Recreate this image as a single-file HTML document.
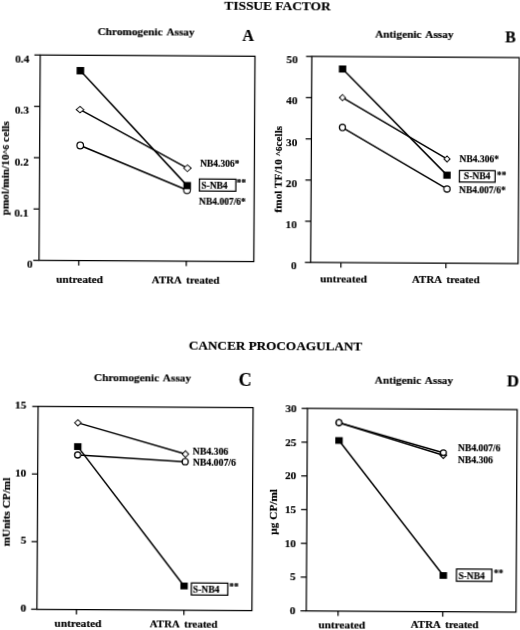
<!DOCTYPE html>
<html lang="en">
<head>
<meta charset="utf-8">
<title>Tissue Factor and Cancer Procoagulant</title>
<style>
html,body{margin:0;padding:0;background:#fff;}
body{width:520px;height:630px;overflow:hidden;}
svg{display:block;}
svg text{font-family:'Liberation Serif', 'DejaVu Serif', serif;font-weight:bold;fill:#000;stroke:#000;stroke-width:0.18px;}
</style>
</head>
<body>
<svg width="520" height="630" viewBox="0 0 520 630">
<rect x="0" y="0" width="520" height="630" fill="#fff"/>
<defs><filter id="soft" filterUnits="userSpaceOnUse" x="-10" y="-10" width="540" height="650"><feGaussianBlur stdDeviation="0.32"/></filter></defs>
<g filter="url(#soft)" transform="rotate(0.33 260 315)">
<text x="275.74" y="10.20" font-size="13.4" text-anchor="middle" >TISSUE FACTOR</text>
<text x="275.70" y="350.01" font-size="13.2" text-anchor="middle" >CANCER PROCOAGULANT</text>
<rect x="38.7" y="56.3" width="214.80" height="205.30" fill="none" stroke="#000" stroke-width="1.25"/>
<line x1="32.90" y1="261.60" x2="38.70" y2="261.60" stroke="#000" stroke-width="1.25"/>
<text x="32.40" y="269.20" font-size="11.3" text-anchor="end" >0</text>
<line x1="32.90" y1="210.28" x2="38.70" y2="210.28" stroke="#000" stroke-width="1.25"/>
<text x="27.80" y="217.88" font-size="11.3" text-anchor="end" >0.1</text>
<line x1="32.90" y1="158.95" x2="38.70" y2="158.95" stroke="#000" stroke-width="1.25"/>
<text x="27.80" y="166.55" font-size="11.3" text-anchor="end" >0.2</text>
<line x1="32.90" y1="107.62" x2="38.70" y2="107.62" stroke="#000" stroke-width="1.25"/>
<text x="27.80" y="115.22" font-size="11.3" text-anchor="end" >0.3</text>
<line x1="32.90" y1="56.30" x2="38.70" y2="56.30" stroke="#000" stroke-width="1.25"/>
<text x="27.80" y="63.90" font-size="11.3" text-anchor="end" >0.4</text>
<line x1="78.50" y1="261.60" x2="78.50" y2="266.60" stroke="#000" stroke-width="1.25"/>
<line x1="186.00" y1="261.60" x2="186.00" y2="266.60" stroke="#000" stroke-width="1.25"/>
<text x="79.42" y="284.04" font-size="11.3" text-anchor="middle" >untreated</text>
<text x="185.42" y="283.83" font-size="10.95" text-anchor="middle" word-spacing="2.2">ATRA treated</text>
<text transform="translate(8.16,169.75) rotate(-90)" font-size="11.3" text-anchor="middle">pmol/min/10<tspan font-size="9">^6</tspan> cells</text>
<text x="144.39" y="35.86" font-size="11.3" text-anchor="middle" word-spacing="1.5">Chromogenic Assay</text>
<text x="246.42" y="40.57" font-size="16" text-anchor="middle" >A</text>
<line x1="79.00" y1="71.74" x2="186.46" y2="186.12" stroke="#000" stroke-width="1.5"/>
<line x1="78.92" y1="110.64" x2="186.56" y2="168.62" stroke="#000" stroke-width="1.5"/>
<line x1="79.23" y1="146.54" x2="186.28" y2="190.52" stroke="#000" stroke-width="1.5"/>
<circle cx="79.23" cy="146.54" r="3.3" fill="#fff" stroke="#000" stroke-width="1.25"/>
<circle cx="186.28" cy="190.52" r="3.3" fill="#fff" stroke="#000" stroke-width="1.25"/>
<polygon points="75.22,110.64 78.92,107.44 82.62,110.64 78.92,113.84" fill="#fff" stroke="#000" stroke-width="1.1"/>
<polygon points="182.86,168.62 186.56,165.42 190.26,168.62 186.56,171.82" fill="#fff" stroke="#000" stroke-width="1.1"/>
<rect x="75.20" y="68.04" width="7.6" height="7.4" fill="#000"/>
<rect x="182.66" y="182.42" width="7.6" height="7.4" fill="#000"/>
<text x="199.15" y="167.35" font-size="9.5" text-anchor="start" >NB4.306*</text>
<text x="198.36" y="204.85" font-size="9.5" text-anchor="start" >NB4.007/6*</text>
<rect x="198.62" y="179.35" width="36.47" height="12.09" fill="none" stroke="#000" stroke-width="1.25"/>
<text x="200.47" y="189.14" font-size="9.5" text-anchor="start" >S-NB4</text>
<text x="235.86" y="185.94" font-size="9.5" text-anchor="start" >**</text>
<rect x="310.4" y="56.2" width="207.40" height="206.00" fill="none" stroke="#000" stroke-width="1.25"/>
<line x1="304.60" y1="262.20" x2="310.40" y2="262.20" stroke="#000" stroke-width="1.25"/>
<text x="296.40" y="269.20" font-size="11.3" text-anchor="end" >0</text>
<line x1="304.60" y1="221.00" x2="310.40" y2="221.00" stroke="#000" stroke-width="1.25"/>
<text x="296.40" y="228.00" font-size="11.3" text-anchor="end" >10</text>
<line x1="304.60" y1="179.80" x2="310.40" y2="179.80" stroke="#000" stroke-width="1.25"/>
<text x="296.40" y="186.80" font-size="11.3" text-anchor="end" >20</text>
<line x1="304.60" y1="138.60" x2="310.40" y2="138.60" stroke="#000" stroke-width="1.25"/>
<text x="296.40" y="145.60" font-size="11.3" text-anchor="end" >30</text>
<line x1="304.60" y1="97.40" x2="310.40" y2="97.40" stroke="#000" stroke-width="1.25"/>
<text x="296.40" y="104.40" font-size="11.3" text-anchor="end" >40</text>
<line x1="304.60" y1="56.20" x2="310.40" y2="56.20" stroke="#000" stroke-width="1.25"/>
<text x="296.40" y="63.20" font-size="11.3" text-anchor="end" >50</text>
<line x1="340.60" y1="262.20" x2="340.60" y2="267.20" stroke="#000" stroke-width="1.25"/>
<line x1="445.60" y1="262.20" x2="445.60" y2="267.20" stroke="#000" stroke-width="1.25"/>
<text x="343.31" y="281.72" font-size="11.3" text-anchor="middle" >untreated</text>
<text x="445.61" y="281.53" font-size="10.95" text-anchor="middle" word-spacing="2.2">ATRA treated</text>
<text transform="translate(281.16,169.18) rotate(-90)" font-size="11.3" text-anchor="middle">fmol TF/10 <tspan font-size="9">^6</tspan>cells</text>
<text x="412.60" y="36.62" font-size="11.3" text-anchor="middle" word-spacing="1.5">Antigenic Assay</text>
<text x="508.92" y="40.56" font-size="16" text-anchor="middle" >B</text>
<line x1="341.18" y1="68.53" x2="446.19" y2="174.13" stroke="#000" stroke-width="1.5"/>
<line x1="341.25" y1="97.13" x2="446.10" y2="157.93" stroke="#000" stroke-width="1.5"/>
<line x1="341.42" y1="127.03" x2="446.27" y2="187.93" stroke="#000" stroke-width="1.5"/>
<circle cx="341.42" cy="127.03" r="3.05" fill="#fff" stroke="#000" stroke-width="1.3"/>
<circle cx="446.27" cy="187.93" r="3.05" fill="#fff" stroke="#000" stroke-width="1.3"/>
<polygon points="338.30,97.13 341.25,94.18 344.20,97.13 341.25,100.08" fill="#fff" stroke="#000" stroke-width="1.1"/>
<polygon points="443.15,157.93 446.10,154.98 449.05,157.93 446.10,160.88" fill="#fff" stroke="#000" stroke-width="1.1"/>
<rect x="337.48" y="64.98" width="7.4" height="7.1" fill="#000"/>
<rect x="442.49" y="170.58" width="7.4" height="7.1" fill="#000"/>
<text x="458.62" y="161.05" font-size="9.5" text-anchor="start" >NB4.306*</text>
<text x="458.30" y="192.26" font-size="9.5" text-anchor="start" >NB4.007/6*</text>
<rect x="458.56" y="169.25" width="35.77" height="11.50" fill="none" stroke="#000" stroke-width="1.25"/>
<text x="463.12" y="178.23" font-size="9.5" text-anchor="start" >S-NB4</text>
<text x="495.91" y="176.54" font-size="9.5" text-anchor="start" >**</text>
<rect x="38.6" y="407.7" width="215.00" height="202.80" fill="none" stroke="#000" stroke-width="1.25"/>
<line x1="32.80" y1="610.50" x2="38.60" y2="610.50" stroke="#000" stroke-width="1.25"/>
<text x="28.00" y="612.80" font-size="11.3" text-anchor="end" >0</text>
<line x1="32.80" y1="542.90" x2="38.60" y2="542.90" stroke="#000" stroke-width="1.25"/>
<text x="27.61" y="545.20" font-size="11.3" text-anchor="end" >5</text>
<line x1="32.80" y1="475.30" x2="38.60" y2="475.30" stroke="#000" stroke-width="1.25"/>
<text x="27.22" y="477.60" font-size="11.3" text-anchor="end" >10</text>
<line x1="32.80" y1="407.70" x2="38.60" y2="407.70" stroke="#000" stroke-width="1.25"/>
<text x="26.83" y="410.00" font-size="11.3" text-anchor="end" >15</text>
<line x1="78.20" y1="610.50" x2="78.20" y2="615.50" stroke="#000" stroke-width="1.25"/>
<line x1="185.60" y1="610.50" x2="185.60" y2="615.50" stroke="#000" stroke-width="1.25"/>
<text x="79.80" y="628.34" font-size="11.3" text-anchor="middle" >untreated</text>
<text x="185.40" y="628.43" font-size="10.95" text-anchor="middle" word-spacing="2.2">ATRA treated</text>
<text transform="translate(11.14,513.44) rotate(-90)" font-size="11.3" text-anchor="middle">mUnits CP/ml</text>
<text x="142.88" y="381.88" font-size="11.3" text-anchor="middle" word-spacing="1.5">Chromogenic Assay</text>
<text x="245.41" y="386.49" font-size="18" text-anchor="middle" >C</text>
<line x1="78.52" y1="423.85" x2="186.30" y2="454.53" stroke="#000" stroke-width="1.5"/>
<line x1="78.51" y1="456.05" x2="186.05" y2="462.13" stroke="#000" stroke-width="1.5"/>
<line x1="78.56" y1="447.65" x2="185.66" y2="586.43" stroke="#000" stroke-width="1.5"/>
<circle cx="78.51" cy="456.05" r="3.0" fill="#fff" stroke="#000" stroke-width="1.4"/>
<circle cx="186.05" cy="462.13" r="3.0" fill="#fff" stroke="#000" stroke-width="1.4"/>
<polygon points="75.37,423.85 78.52,420.70 81.67,423.85 78.52,427.00" fill="#fff" stroke="#000" stroke-width="1.1"/>
<polygon points="183.15,454.53 186.30,451.38 189.45,454.53 186.30,457.68" fill="#fff" stroke="#000" stroke-width="1.1"/>
<rect x="74.86" y="444.25" width="7.4" height="6.8" fill="#000"/>
<rect x="181.96" y="583.03" width="7.4" height="6.8" fill="#000"/>
<text x="193.61" y="454.98" font-size="9.8" text-anchor="start" >NB4.306</text>
<text x="193.67" y="466.08" font-size="9.8" text-anchor="start" >NB4.007/6</text>
<rect x="192.94" y="583.39" width="36.47" height="11.99" fill="none" stroke="#000" stroke-width="1.25"/>
<text x="194.60" y="592.68" font-size="9.5" text-anchor="start" >S-NB4</text>
<text x="230.78" y="589.87" font-size="9.5" text-anchor="start" >**</text>
<rect x="308.0" y="408.2" width="209.70" height="202.40" fill="none" stroke="#000" stroke-width="1.25"/>
<line x1="302.20" y1="610.60" x2="308.00" y2="610.60" stroke="#000" stroke-width="1.25"/>
<text x="297.20" y="614.20" font-size="11.3" text-anchor="end" >0</text>
<line x1="302.20" y1="576.87" x2="308.00" y2="576.87" stroke="#000" stroke-width="1.25"/>
<text x="297.20" y="580.47" font-size="11.3" text-anchor="end" >5</text>
<line x1="302.20" y1="543.13" x2="308.00" y2="543.13" stroke="#000" stroke-width="1.25"/>
<text x="297.20" y="546.73" font-size="11.3" text-anchor="end" >10</text>
<line x1="302.20" y1="509.40" x2="308.00" y2="509.40" stroke="#000" stroke-width="1.25"/>
<text x="297.20" y="513.00" font-size="11.3" text-anchor="end" >15</text>
<line x1="302.20" y1="475.67" x2="308.00" y2="475.67" stroke="#000" stroke-width="1.25"/>
<text x="297.20" y="479.27" font-size="11.3" text-anchor="end" >20</text>
<line x1="302.20" y1="441.93" x2="308.00" y2="441.93" stroke="#000" stroke-width="1.25"/>
<text x="297.20" y="445.53" font-size="11.3" text-anchor="end" >25</text>
<line x1="302.20" y1="408.20" x2="308.00" y2="408.20" stroke="#000" stroke-width="1.25"/>
<text x="297.20" y="411.80" font-size="11.3" text-anchor="end" >30</text>
<line x1="339.80" y1="610.60" x2="339.80" y2="615.60" stroke="#000" stroke-width="1.25"/>
<line x1="444.50" y1="610.60" x2="444.50" y2="615.60" stroke="#000" stroke-width="1.25"/>
<text x="343.60" y="627.52" font-size="11.3" text-anchor="middle" >untreated</text>
<text x="446.40" y="627.33" font-size="10.95" text-anchor="middle" word-spacing="2.2">ATRA treated</text>
<text transform="translate(277.93,511.90) rotate(-90)" font-size="11.3" text-anchor="middle">µg CP/ml</text>
<text x="414.19" y="382.51" font-size="11.3" text-anchor="middle" word-spacing="1.5">Antigenic Assay</text>
<text x="513.21" y="384.84" font-size="16.8" text-anchor="middle" >D</text>
<line x1="339.62" y1="422.34" x2="444.21" y2="454.24" stroke="#000" stroke-width="1.5"/>
<line x1="339.62" y1="422.14" x2="444.19" y2="451.74" stroke="#000" stroke-width="1.5"/>
<line x1="339.72" y1="440.04" x2="444.80" y2="574.44" stroke="#000" stroke-width="1.5"/>
<polygon points="336.42,422.34 339.62,419.14 342.82,422.34 339.62,425.54" fill="#fff" stroke="#000" stroke-width="1.1"/>
<polygon points="441.01,454.24 444.21,451.04 447.41,454.24 444.21,457.44" fill="#fff" stroke="#000" stroke-width="1.1"/>
<circle cx="339.62" cy="422.14" r="2.85" fill="#fff" stroke="#000" stroke-width="1.45"/>
<circle cx="444.19" cy="451.74" r="2.85" fill="#fff" stroke="#000" stroke-width="1.45"/>
<rect x="335.97" y="436.69" width="7.5" height="6.7" fill="#000"/>
<rect x="441.05" y="571.09" width="7.5" height="6.7" fill="#000"/>
<text x="458.78" y="450.46" font-size="9.65" text-anchor="start" >NB4.007/6</text>
<text x="458.85" y="461.56" font-size="9.65" text-anchor="start" >NB4.306</text>
<rect x="457.96" y="567.86" width="35.37" height="12.30" fill="none" stroke="#000" stroke-width="1.25"/>
<text x="459.92" y="577.75" font-size="9.5" text-anchor="start" >S-NB4</text>
<text x="495.30" y="574.85" font-size="9.5" text-anchor="start" >**</text>
</g>
</svg>
</body>
</html>
